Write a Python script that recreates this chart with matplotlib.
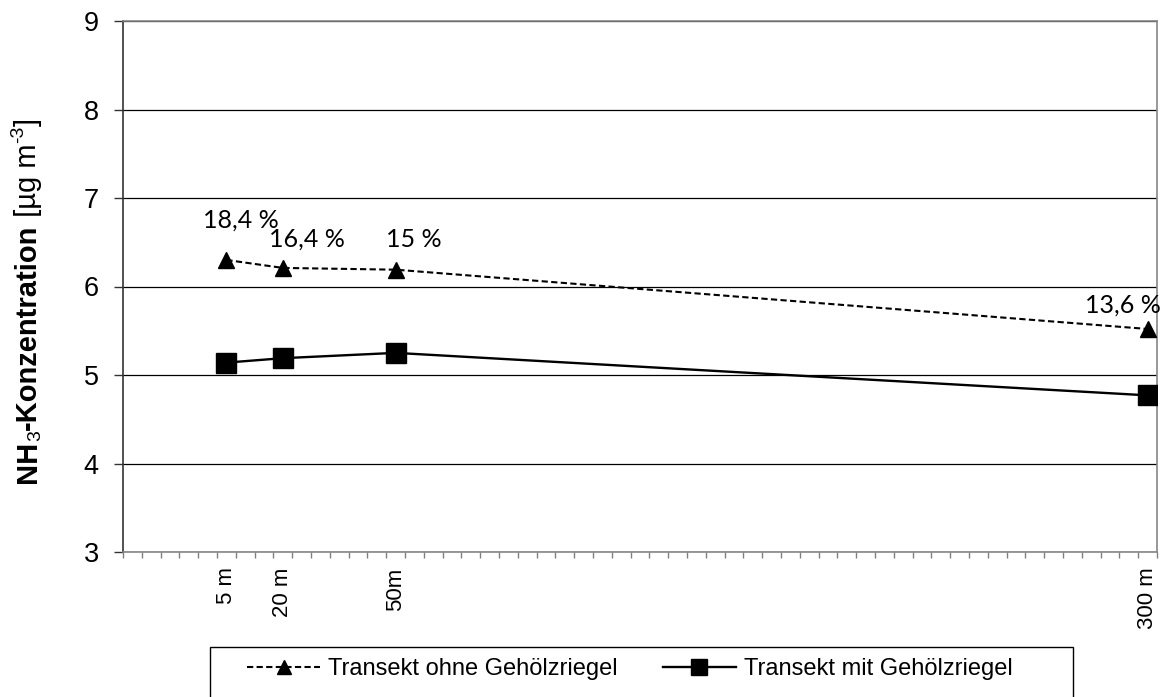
import numpy as np
import matplotlib
matplotlib.use("Agg")
import matplotlib.pyplot as plt
from matplotlib.lines import Line2D
from matplotlib.patches import Rectangle

W, H = 1162, 697

# x positions on the (category-like) axis, 0..55
x_pos = [5.5, 8.5, 14.5, 54.5]
x_labels = ["5 m", "20 m", "50m", "300 m"]
ohne = [6.30, 6.21, 6.19, 5.52]   # Transekt ohne Gehölzriegel
mit = [5.14, 5.19, 5.25, 4.77]    # Transekt mit Gehölzriegel
pct_labels = ["18,4 %", "16,4 %", "15 %", "13,6 %"]
pct_offsets = [(14, 32), (24, 21), (18, 23), (-25, 16)]  # pixels from marker

plt.rcParams["font.family"] = ["Liberation Sans", "DejaVu Sans"]

fig = plt.figure(figsize=(W / 100, H / 100), dpi=100, facecolor="white")
ax = fig.add_axes([123 / W, 1 - 552 / H, 1034 / W, 531 / H])
ax.set_xlim(0, 55)
ax.set_ylim(3, 9)

dash = (0, (3, 1.6))
ax.plot(x_pos, ohne, color="black", lw=1.5, ls=dash,
        marker="^", ms=12, zorder=3)
ax.plot(x_pos, mit, color="black", lw=1.7, marker="s", ms=14, zorder=3)

for x, y, txt, (dx, dy) in zip(x_pos, ohne, pct_labels, pct_offsets):
    ax.annotate(txt, (x, y), xytext=(dx, dy), textcoords="offset pixels",
                ha="center", va="baseline", fontsize=18, family="Lato",
                annotation_clip=False)

# grid / axes styling
ax.set_yticks(range(3, 10))
ax.yaxis.grid(True, color="black", lw=0.9)
ax.set_axisbelow(True)
ax.tick_params(axis="y", direction="out", length=6.5, width=1, pad=11,
               labelsize=19.5, color="#333333")
ax.set_xticks(x_pos)
ax.set_xticklabels(x_labels, rotation=90, fontsize=16)
ax.set_xticks(np.arange(0, 56, 1), minor=True)
ax.tick_params(axis="x", which="major", length=0, pad=11)
ax.tick_params(axis="x", which="minor", direction="out", length=4.5,
               width=1, color="#808080")
for side in ["top", "right", "bottom"]:
    ax.spines[side].set_color("#868686")
    ax.spines[side].set_linewidth(1.2)
ax.spines["left"].set_color("#333333")
ax.spines["left"].set_linewidth(1.2)

# legend (smaller markers than the plot) with a box running off the bottom
h1 = Line2D([], [], color="black", lw=1.5, ls=dash, marker="^", ms=9.5)
h2 = Line2D([], [], color="black", lw=1.7, marker="s", ms=11)
fig.legend([h1, h2], ["Transekt ohne Gehölzriegel", "Transekt mit Gehölzriegel"],
           loc="center left", bbox_to_anchor=(247 / W, 1 - 669 / H),
           frameon=False, ncol=2, fontsize=17, handlelength=3.1,
           handletextpad=0.34, columnspacing=1.9, borderpad=0, borderaxespad=0)
fig.add_artist(Rectangle((210 / W, -0.05), (1073 - 210) / W, (H - 647) / H + 0.05,
                         transform=fig.transFigure, fill=False, ec="black", lw=1))

# y label built from pieces (bold / normal / sub / superscript)
pieces = [
    ("NH", "bold", 21, 0),
    ("3", "normal", 14, 4),
    ("-Konzentration", "bold", 21, 0),
    (" [µg m", "normal", 21, 0),
    ("-3", "normal", 14, -13),
    ("]", "normal", 21, 0),
]
renderer = fig.canvas.get_renderer()
base_x = 36
y_px = H - 483
for txt, weight, size, shift in pieces:
    t = fig.text((base_x + shift) / W, y_px / H, txt, rotation=90,
                 rotation_mode="anchor", ha="left", va="baseline",
                 fontsize=size, fontweight=weight)
    y_px += t.get_window_extent(renderer).height

fig.savefig("out.png", dpi=100)
